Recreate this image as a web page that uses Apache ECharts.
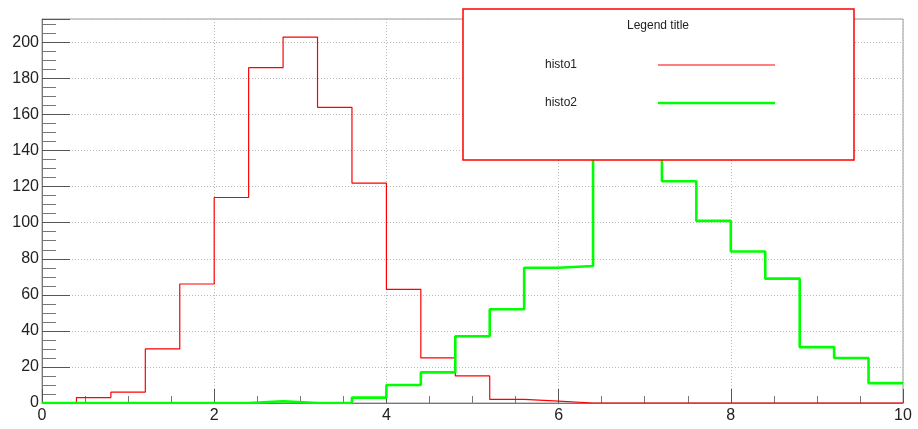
<!DOCTYPE html>
<html>
<head>
<meta charset="utf-8">
<script src="https://cdn.jsdelivr.net/npm/echarts@6/dist/echarts.min.js"></script>
<style>
  html, body { margin: 0; padding: 0; background: #fff; }
  #chart { width: 918px; height: 429px; }
</style>
</head>
<body>
<div id="chart"></div>
<script>
// bin edges (width 0.4, 0 -> 10)
var binEdges = [0, 0.4, 0.8, 1.2, 1.6, 2.0, 2.4, 2.8, 3.2, 3.6, 4.0, 4.4, 4.8,
  5.2, 5.6, 6.0, 6.4, 6.8, 7.2, 7.6, 8.0, 8.4, 8.8, 9.2, 9.6, 10];

// bin contents, one per bin
var histo1 = [0, 3, 6, 30, 66, 114, 186, 203, 164, 122, 63, 25, 15,
  2, 1, 0, 0, 0, 0, 0, 0, 0, 0, 0, 0];
var histo2 = [0, 0, 0, 0, 0, 0, 1, 0, 0, 3, 10, 17, 37,
  52, 75, 76, 142, 138, 123, 101, 84, 69, 31, 25, 11];

var seriesNames = ["histo1", "histo2"];
var legendTitle = "Legend title";

// histogram outline: point at each low edge, last point repeats the last bin
function toSteps(counts) {
  var pts = [];
  for (var i = 0; i < counts.length; i++) {
    pts.push([binEdges[i], counts[i]]);
  }
  pts.push([binEdges[binEdges.length - 1], counts[counts.length - 1]]);
  return pts;
}

var chart = echarts.init(document.getElementById("chart"));
var labelFont = "'Liberation Sans', Arial, sans-serif";

chart.setOption({
  animation: false,
  grid: {
    left: 42,
    right: 15,
    top: 19,
    bottom: 26,
    show: true,
    borderColor: "#999",
    borderWidth: 1,
  },
  xAxis: {
    type: "value",
    min: 0,
    max: 10,
    interval: 2,
    axisLine: { lineStyle: { color: "#777" } },
    axisTick: { inside: true, length: 14, lineStyle: { color: "#555" } },
    minorTick: { show: true, splitNumber: 4, length: 7, lineStyle: { color: "#777" } },
    axisLabel: { color: "#222", fontSize: 16, fontFamily: labelFont, margin: 5 },
    splitLine: { show: true, lineStyle: { color: "#bbb", type: [1, 2] } },
  },
  yAxis: {
    type: "value",
    min: 0,
    max: 213,
    interval: 20,
    axisLine: { show: true, lineStyle: { color: "#777" } },
    axisTick: { inside: true, length: 28, lineStyle: { color: "#555" } },
    minorTick: { show: true, splitNumber: 4, length: 14, lineStyle: { color: "#777" } },
    axisLabel: { color: "#222", fontSize: 16, fontFamily: labelFont, margin: 3, showMaxLabel: false },
    splitLine: { show: true, lineStyle: { color: "#bbb", type: [1, 2] } },
  },
  series: [
    {
      name: seriesNames[0],
      type: "line",
      step: "end",
      symbol: "none",
      data: toSteps(histo1),
      lineStyle: { color: "#ff0000", width: 1.2 },
      silent: true,
    },
    {
      name: seriesNames[1],
      type: "line",
      step: "end",
      symbol: "none",
      data: toSteps(histo2),
      lineStyle: { color: "#00ff00", width: 2.6 },
      silent: true,
    },
  ],
  graphic: [
    {
      type: "rect",
      z: 100,
      silent: true,
      shape: { x: 463, y: 9, width: 391, height: 151 },
      style: { fill: "#fff", stroke: "#ff0000", lineWidth: 1.5 },
    },
    {
      type: "text",
      z: 101,
      silent: true,
      x: 658, y: 26,
      style: { text: legendTitle, fill: "#222", font: "12px " + labelFont, align: "center", verticalAlign: "middle" },
    },
    {
      type: "text",
      z: 101,
      silent: true,
      x: 545, y: 65,
      style: { text: seriesNames[0], fill: "#222", font: "12px " + labelFont, verticalAlign: "middle" },
    },
    {
      type: "line",
      z: 101,
      silent: true,
      shape: { x1: 658, y1: 65, x2: 775, y2: 65 },
      style: { stroke: "#ff0000", lineWidth: 1.2 },
    },
    {
      type: "text",
      z: 101,
      silent: true,
      x: 545, y: 103,
      style: { text: seriesNames[1], fill: "#222", font: "12px " + labelFont, verticalAlign: "middle" },
    },
    {
      type: "line",
      z: 101,
      silent: true,
      shape: { x1: 658, y1: 103, x2: 775, y2: 103 },
      style: { stroke: "#00ff00", lineWidth: 2.6 },
    },
  ],
});
</script>
</body>
</html>
